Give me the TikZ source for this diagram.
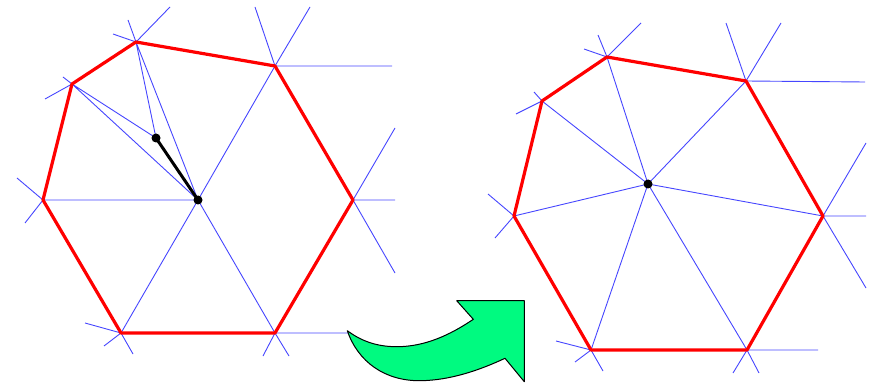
\documentclass[tikz,border=0pt]{standalone}
\usetikzlibrary{calc}
\definecolor{meshblue}{RGB}{70,70,255}
\definecolor{hexred}{RGB}{255,0,0}
\definecolor{arrowgreen}{RGB}{0,250,128}
\tikzset{
  mesh/.style={draw=meshblue, line width=0.9pt},
  rim/.style={draw=hexred, line width=3.2pt, line join=round},
  moved/.style={draw=black, line width=3pt, line cap=round},
  dotmark/.style={fill=black},
  bigarrow/.style={fill=arrowgreen, draw=black, line width=1pt, line join=round}
}
\begin{document}
\begin{tikzpicture}[x=1pt,y=-1pt]
\useasboundingbox (0,0) rectangle (875,390);
% ---------- left mesh ----------
\coordinate (A) at (136,42);
\coordinate (B) at (275,66);
\coordinate (C) at (353,200);
\coordinate (D) at (275,333);
\coordinate (E) at (121,333);
\coordinate (F) at (43,200);
\coordinate (G) at (72,84);
\coordinate (O) at (198,200);
\coordinate (P) at (156,138);
% stub ends
\coordinate (a1) at (113,34); \coordinate (a2) at (128,20); \coordinate (a3) at (170,7);
\coordinate (g1) at (63,77); \coordinate (g2) at (45,99);
\coordinate (f1) at (17,178); \coordinate (f2) at (25,223);
\coordinate (e1) at (85,323); \coordinate (e2) at (104,346); \coordinate (e3) at (133,354);
\coordinate (d1) at (263,356); \coordinate (d2) at (289,356); \coordinate (d3) at (348,333);
\coordinate (c1) at (395,200); \coordinate (c2) at (395,128); \coordinate (c3) at (395,273);
\coordinate (b1) at (392,66); \coordinate (b2) at (255,7); \coordinate (b3) at (310,7);
\path[mesh] (A)--(a1) (A)--(a2) (A)--(a3)
  (G)--(g1) (G)--(g2) (F)--(f1) (F)--(f2)
  (E)--(e1) (E)--(e2) (E)--(e3)
  (D)--(d1) (D)--(d2) (D)--(d3)
  (C)--(c1) (C)--(c2) (C)--(c3)
  (B)--(b1) (B)--(b2) (B)--(b3)
  (O)--(A) (O)--(G) (O)--(F) (O)--(E) (O)--(D) (O)--(B)
  (P)--(A) (P)--(G);
\path[rim] (A)--(B)--(C)--(D)--(E)--(F)--(G)--cycle;
\path[moved] (P)--(O);
\fill[dotmark] (P) circle (4.5pt);
\fill[dotmark] (O) circle (4.5pt);
% ---------- right mesh ----------
\coordinate (RA) at (607,57);
\coordinate (RB) at (746,81);
\coordinate (RC) at (823,216);
\coordinate (RD) at (747,350);
\coordinate (RE) at (591,350);
\coordinate (RF) at (514,216);
\coordinate (RG) at (542,101);
\coordinate (RO) at (648,184);
\coordinate (ra1) at (584,49); \coordinate (ra2) at (598,35); \coordinate (ra3) at (641,23);
\coordinate (rg1) at (534,92); \coordinate (rg2) at (516,114);
\coordinate (rf1) at (488,194); \coordinate (rf2) at (495,238);
\coordinate (re1) at (556,341); \coordinate (re2) at (575,362); \coordinate (re3) at (603,371);
\coordinate (rd1) at (733,373); \coordinate (rd2) at (759,373); \coordinate (rd3) at (818,350);
\coordinate (rc1) at (866,216); \coordinate (rc2) at (866,143); \coordinate (rc3) at (866,288);
\coordinate (rb1) at (865,82); \coordinate (rb2) at (726,23); \coordinate (rb3) at (781,23);
\path[mesh] (RA)--(ra1) (RA)--(ra2) (RA)--(ra3)
  (RG)--(rg1) (RG)--(rg2) (RF)--(rf1) (RF)--(rf2)
  (RE)--(re1) (RE)--(re2) (RE)--(re3)
  (RD)--(rd1) (RD)--(rd2) (RD)--(rd3)
  (RC)--(rc1) (RC)--(rc2) (RC)--(rc3)
  (RB)--(rb1) (RB)--(rb2) (RB)--(rb3)
  (RO)--(RA) (RO)--(RB) (RO)--(RC) (RO)--(RD) (RO)--(RE) (RO)--(RF) (RO)--(RG);
\path[rim] (RA)--(RB)--(RC)--(RD)--(RE)--(RF)--(RG)--cycle;
\fill[dotmark] (RO) circle (4.5pt);
% ---------- green arrow ----------
\path[bigarrow] (347.3,330.7)
  .. controls (358,362) and (385,381) .. (420,380.7)
  .. controls (450,380.5) and (480,370) .. (505,358.3)
  -- (524.3,381.7) -- (524.3,300.7) -- (456.7,300.7) -- (473.3,319.3)
  .. controls (450,335) and (425,346.7) .. (396.7,346.7)
  .. controls (375,346.7) and (360,340) .. cycle;
\end{tikzpicture}
\end{document}
